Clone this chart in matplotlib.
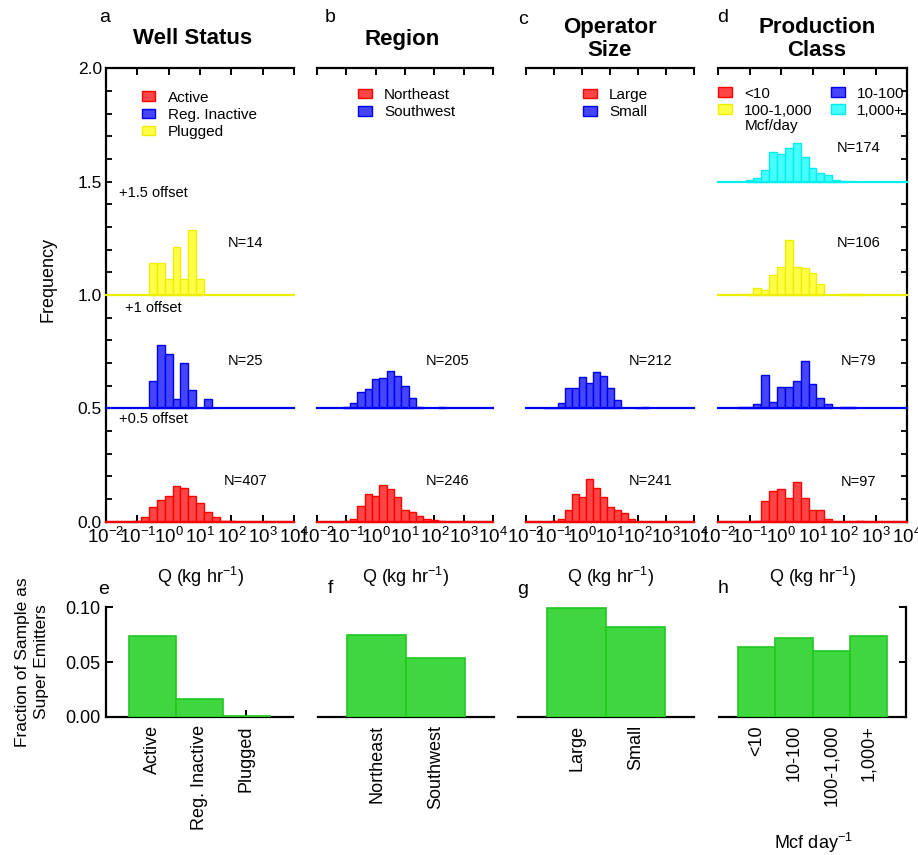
import matplotlib
matplotlib.use('Agg')
import matplotlib.pyplot as plt
import numpy as np
from matplotlib.patches import Patch
from matplotlib.ticker import FixedLocator, MultipleLocator, NullLocator, LogFormatterSciNotation

plt.rcParams['font.family'] = ['Liberation Sans', 'DejaVu Sans']
plt.rcParams['mathtext.fontset'] = 'custom'
plt.rcParams['mathtext.rm'] = 'Liberation Sans'
plt.rcParams['mathtext.it'] = 'Liberation Sans:italic'
plt.rcParams['mathtext.bf'] = 'Liberation Sans:bold'

# ---------------- data ----------------
# log10 bin centres of emission-rate histograms (0.25-decade bins)
bin_log10 = [-1.25, -1.0, -0.75, -0.5, -0.25, 0.0, 0.25, 0.5, 0.75, 1.0,
             1.25, 1.5, 1.75, 2.0, 2.25, 2.5]

# Panel a: Well Status
active       = [0, 0.004, 0.019, 0.063, 0.096, 0.115, 0.159, 0.147, 0.115, 0.081, 0.044, 0.019, 0.005, 0.002, 0, 0]
reg_inactive = [0, 0, 0, 0.12, 0.28, 0.24, 0.04, 0.20, 0.08, 0, 0.04, 0, 0, 0, 0, 0]
plugged      = [0, 0, 0, 0.143, 0.143, 0.071, 0.214, 0.071, 0.286, 0.071, 0, 0, 0, 0, 0, 0]
# Panel b: Region
northeast    = [0, 0.004, 0.012, 0.069, 0.122, 0.115, 0.162, 0.144, 0.107, 0.051, 0.041, 0.026, 0.012, 0.007, 0.003, 0]
southwest    = [0, 0.005, 0.022, 0.071, 0.085, 0.128, 0.135, 0.165, 0.143, 0.099, 0.047, 0.005, 0, 0, 0.005, 0]
# Panel c: Operator Size
large        = [0, 0.003, 0.010, 0.051, 0.121, 0.107, 0.188, 0.150, 0.110, 0.063, 0.051, 0.037, 0.012, 0, 0, 0]
small        = [0.003, 0.003, 0.026, 0.091, 0.091, 0.140, 0.110, 0.159, 0.144, 0.088, 0.037, 0, 0, 0.003, 0.007, 0]
# Panel d: Production Class
prod_lt10    = [0, 0, 0.003, 0.093, 0.134, 0.144, 0.103, 0.175, 0.103, 0.052, 0.052, 0.010, 0, 0, 0, 0.003]
prod_10_100  = [0.004, 0.004, 0.018, 0.147, 0.029, 0.096, 0.096, 0.121, 0.210, 0.107, 0.044, 0.018, 0, 0.004, 0.004, 0]
prod_100_1k  = [0, 0.004, 0.032, 0.022, 0.088, 0.125, 0.243, 0.125, 0.118, 0.099, 0.051, 0, 0, 0.004, 0.004, 0.004]
prod_1k_plus = [0, 0.010, 0.018, 0.051, 0.132, 0.121, 0.150, 0.172, 0.110, 0.063, 0.041, 0.029, 0.007, 0.003, 0, 0]

sample_sizes = {'a': ['N=407', 'N=25', 'N=14'],
                'b': ['N=246', 'N=205'],
                'c': ['N=241', 'N=212'],
                'd': ['N=97', 'N=79', 'N=106', 'N=174']}

# Bottom row: fraction of sample as super emitters
status_cats = ['Active', 'Reg. Inactive', 'Plugged']
status_frac = [0.0738, 0.0159, 0.0006]
region_cats = ['Northeast', 'Southwest']
region_frac = [0.0747, 0.0534]
operator_cats = ['Large', 'Small']
operator_frac = [0.0996, 0.0823]
prod_cats = ['<10', '10-100', '100-1,000', '1,000+']
prod_frac = [0.0634, 0.0716, 0.0604, 0.0738]

# ---------------- style ----------------
W, H = 918, 855
RED = ('#ff4545', '#ff0000')
BLUE = ('#4545ff', '#0000f0')
YELLOW = ('#ffff45', '#eeee00')
CYAN = ('#45ffff', '#00eeee')
GREEN = ('#3fd63f', '#20c820')

fig = plt.figure(figsize=(W / 100, H / 100), dpi=100)


def add_ax(x0, x1, y0, y1):
    return fig.add_axes([x0 / W, 1 - y1 / H, (x1 - x0) / W, (y1 - y0) / H])


TOP_Y = (68.5, 521.7)
top_x = {'a': (106, 294), 'b': (317, 493), 'c': (526, 694), 'd': (718, 907)}
bot_x = {'e': (106, 293), 'f': (318, 494), 'g': (518, 694), 'h': (719, 906)}
BOT_Y = (607.3, 716.7)

panels = {
    'a': [('Active', active, 0.0, RED), ('Reg. Inactive', reg_inactive, 0.5, BLUE),
          ('Plugged', plugged, 1.0, YELLOW)],
    'b': [('Northeast', northeast, 0.0, RED), ('Southwest', southwest, 0.5, BLUE)],
    'c': [('Large', large, 0.0, RED), ('Small', small, 0.5, BLUE)],
    'd': [('<10', prod_lt10, 0.0, RED), ('10-100', prod_10_100, 0.5, BLUE),
          ('100-1,000', prod_100_1k, 1.0, YELLOW), ('1,000+', prod_1k_plus, 1.5, CYAN)],
}
n_label_y = {'a': [0.18, 0.71, 1.23], 'b': [0.18, 0.71], 'c': [0.18, 0.71],
             'd': [0.175, 0.71, 1.23, 1.65]}
titles = {'a': 'Well Status', 'b': 'Region', 'c': 'Operator\nSize', 'd': 'Production\nClass'}
title_x = {'a': 193, 'b': 402, 'c': 610, 'd': 817}
letter_pos = {'a': (105, 18), 'b': (330, 18), 'c': (523, 20), 'd': (723, 18)}
legend_anchor = {'a': (0.19, 0.951), 'b': (0.233, 0.957), 'c': (0.339, 0.957), 'd': (0.0, 0.960)}

centers = np.array(bin_log10)
left_edges = 10 ** (centers - 0.125)
widths = 10 ** (centers + 0.125) - left_edges

for key, series in panels.items():
    x0, x1 = top_x[key]
    ax = add_ax(x0, x1, *TOP_Y)
    ax.set_xscale('log')
    ax.set_xlim(1e-2, 1e4)
    ax.set_ylim(0, 2.0)
    for lab, heights, off, (fc, ec) in series:
        h = np.array(heights)
        m = h > 0
        ax.bar(left_edges[m], h[m], width=widths[m], bottom=off, align='edge',
               facecolor=fc, edgecolor=ec, linewidth=1.0, zorder=3)
        ax.axhline(off, color=ec, linewidth=1.6, zorder=4, clip_on=False)
    for (lab, heights, off, col), ntxt, ny in zip(series, sample_sizes[key], n_label_y[key]):
        ax.text(10 ** 2.45, ny, ntxt, ha='center', va='center', fontsize=10.5)
    # spines
    ax.spines['right'].set_visible(key == 'd')
    ax.spines['left'].set_visible(key == 'a')
    for s in ax.spines.values():
        s.set_linewidth(1.6)
    ax.xaxis.set_major_locator(FixedLocator([10.0 ** k for k in range(-2, 5)]))
    ax.xaxis.set_minor_locator(NullLocator())
    ax.xaxis.set_major_formatter(LogFormatterSciNotation())
    ax.tick_params(axis='x', which='major', direction='in', top=True, bottom=True,
                   length=5, width=1.4, labelsize=13.5, pad=4)
    ax.yaxis.set_major_locator(MultipleLocator(0.5))
    ax.yaxis.set_minor_locator(MultipleLocator(0.1))
    ax.yaxis.set_major_formatter(matplotlib.ticker.FormatStrFormatter('%.1f'))
    ax.tick_params(axis='y', which='both', direction='in', length=4, width=1.3,
                   left=(key == 'a'), right=(key == 'd'), labelleft=(key == 'a'),
                   labelright=False, labelsize=12.5, pad=3)
    # legend
    handles = [Patch(facecolor=c[0], edgecolor=c[1], linewidth=1.0) for _, _, _, c in series]
    labels = [s[0] for s in series]
    if key == 'd':
        order = [0, 2, 1, 3]
        handles = [handles[i] for i in order]
        labels = [labels[i] for i in order]
        ncol = 2
    else:
        ncol = 1
    ax.legend(handles, labels, loc='upper left', bbox_to_anchor=legend_anchor[key],
              frameon=False, fontsize=11, handlelength=0.9, handleheight=0.6,
              handletextpad=0.8, labelspacing=0.2, borderpad=0, borderaxespad=0,
              ncol=ncol, columnspacing=1.2)
    if key == 'd':
        ax.text((745 - x0) / (x1 - x0), (TOP_Y[1] - 126) / (TOP_Y[1] - TOP_Y[0]), 'Mcf/day',
                transform=ax.transAxes, ha='left', va='center', fontsize=11)
    if key == 'a':
        for ty, tt in [(1.45, '+1.5 offset'), (0.945, '+1 offset'), (0.453, '+0.5 offset')]:
            ax.text(10 ** -0.5, ty, tt, ha='center', va='center', fontsize=10.5)
    # title, letter, x label
    fig.text(title_x[key] / W, 1 - 39 / H, titles[key], ha='center', va='center',
             fontsize=16, fontweight='bold', linespacing=1.1)
    lx, ly = letter_pos[key]
    fig.text(lx / W, 1 - ly / H, key, ha='center', va='center', fontsize=14)
    fig.text((x0 + x1) / 2 / W, 1 - 577 / H, 'Q (kg hr$^{-1}$)', ha='center', va='center',
             fontsize=13)

fig.text(48 / W, 1 - 279 / H, 'Frequency', rotation=90, ha='center', va='center', fontsize=13)

# ---------------- bottom row ----------------
bottom = {'e': (status_cats, status_frac), 'f': (region_cats, region_frac),
          'g': (operator_cats, operator_frac), 'h': (prod_cats, prod_frac)}
bot_letter = {'e': (104, 590), 'f': (330, 588), 'g': (523, 590), 'h': (723, 588)}
for key, (cats, vals) in bottom.items():
    x0, x1 = bot_x[key]
    ax = add_ax(x0, x1, *BOT_Y)
    pos = np.arange(len(cats))
    ax.bar(pos, vals, width=1.0, facecolor=GREEN[0], edgecolor=GREEN[1], linewidth=1.2, zorder=3)
    ax.set_xlim(-1, len(cats))
    ax.set_ylim(0, 0.10)
    ax.spines['top'].set_visible(False)
    ax.spines['left'].set_visible(key == 'e')
    ax.spines['right'].set_visible(key == 'h')
    for s in ax.spines.values():
        s.set_linewidth(1.6)
    ax.set_xticks(pos)
    ax.set_xticklabels(cats, rotation=90, ha='center', va='top')
    ax.tick_params(axis='x', direction='in', length=5, width=1.4, labelsize=13, pad=6)
    ax.set_yticks([0, 0.05, 0.10])
    ax.set_yticklabels(['0.00', '0.05', '0.10'])
    ax.tick_params(axis='y', direction='in', length=5, width=1.4, labelsize=13, pad=4,
                   left=(key == 'e'), right=(key == 'h'), labelleft=(key == 'e'),
                   labelright=False)
    lx, ly = bot_letter[key]
    fig.text(lx / W, 1 - ly / H, key, ha='center', va='center', fontsize=14)

fig.text(32 / W, 1 - 662 / H, 'Fraction of Sample as\nSuper Emitters', rotation=90,
         ha='center', va='center', fontsize=12.5, linespacing=1.3, multialignment='center')
fig.text(813 / W, 1 - 843 / H, 'Mcf day$^{-1}$', ha='center', va='center', fontsize=13)

fig.savefig('out.png', dpi=100)
